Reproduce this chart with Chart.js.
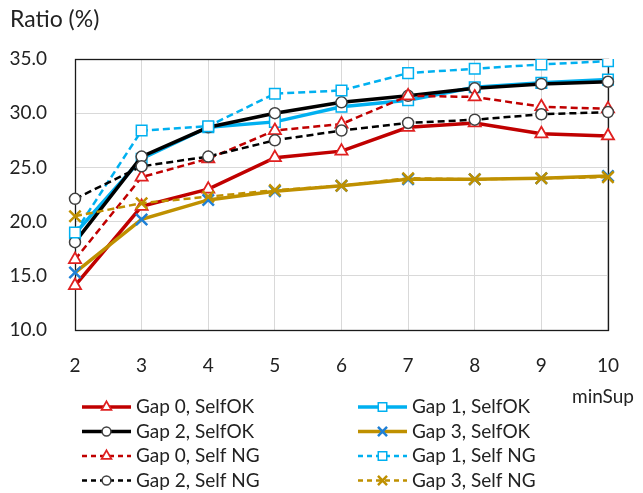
<!DOCTYPE html>
<html>
<head>
<meta charset="utf-8">
<script src="https://cdn.jsdelivr.net/npm/chart.js@4.4.0/dist/chart.umd.min.js"></script>
<style>
html, body { margin: 0; padding: 0; background: #fff; }
</style>
</head>
<body>
<canvas id="myChart" width="643" height="493"></canvas>
<script>
// Data
const minSup = ['2', '3', '4', '5', '6', '7', '8', '9', '10'];
const yTicks = [10, 15, 20, 25, 30, 35];

const gap0SelfOK = [14.1, 21.4, 23.0, 25.9, 26.5, 28.7, 29.1, 28.1, 27.9];
const gap1SelfOK = [18.9, 25.8, 28.7, 29.2, 30.6, 31.2, 32.4, 32.8, 33.1];
const gap2SelfOK = [18.1, 26.0, 28.7, 30.0, 31.0, 31.6, 32.3, 32.7, 32.9];
const gap3SelfOK = [15.3, 20.2, 22.0, 22.8, 23.3, 23.9, 23.9, 24.0, 24.2];
const gap0SelfNG = [16.5, 24.1, 25.8, 28.4, 29.0, 31.6, 31.5, 30.6, 30.4];
const gap1SelfNG = [19.0, 28.4, 28.8, 31.8, 32.1, 33.7, 34.1, 34.5, 34.8];
const gap2SelfNG = [22.1, 25.1, 26.0, 27.5, 28.4, 29.1, 29.4, 29.9, 30.1];
const gap3SelfNG = [20.5, 21.7, 22.3, 22.9, 23.3, 24.0, 23.9, 24.0, 24.1];

const RED = '#c00000';
const BLUE = '#00b0f0';
const GOLD = '#bf9000';
const DASH = [7, 4];

Chart.defaults.font.family = 'Lato';
Chart.defaults.color = '#222';

function series(label, data, color, dashed, marker) {
  return {
    label: label,
    data: data,
    borderColor: color,
    borderWidth: dashed ? 2.5 : 3.5,
    borderDash: dashed ? DASH : [],
    tension: 0,
    fill: false,
    pointStyle: marker.style,
    pointRadius: marker.radius,
    pointBorderColor: marker.border,
    pointBackgroundColor: marker.fill,
    pointBorderWidth: marker.width,
  };
}

const tri = { style: 'triangle', radius: 7, border: '#e02020', fill: '#fff', width: 1.8 };
const sq = { style: 'rect', radius: 7.5, border: BLUE, fill: '#fff', width: 1.5 };
const circ = { style: 'circle', radius: 5.5, border: '#404040', fill: '#fff', width: 1.5 };
const crossBlue = { style: 'crossRot', radius: 8, border: '#1f80d6', fill: '#1f80d6', width: 2.5 };
const crossGold = { style: 'crossRot', radius: 8, border: GOLD, fill: GOLD, width: 2.5 };

const datasets = [
  series('Gap 0, SelfOK', gap0SelfOK, RED, false, tri),
  series('Gap 1, SelfOK', gap1SelfOK, BLUE, false, sq),
  series('Gap 2, SelfOK', gap2SelfOK, '#000', false, circ),
  series('Gap 3, SelfOK', gap3SelfOK, GOLD, false, crossBlue),
  series('Gap 0, Self NG', gap0SelfNG, RED, true, tri),
  series('Gap 1, Self NG', gap1SelfNG, BLUE, true, sq),
  series('Gap 2, Self NG', gap2SelfNG, '#000', true, circ),
  series('Gap 3, Self NG', gap3SelfNG, GOLD, true, crossGold),
];
// later series drawn on top, like the original
datasets.forEach((d, i) => { d.order = datasets.length - i; });

// black frame round the plot area
const plotFrame = {
  id: 'plotFrame',
  beforeDatasetsDraw(chart) {
    const a = chart.chartArea;
    const ctx = chart.ctx;
    ctx.save();
    ctx.strokeStyle = '#1a1a1a';
    ctx.lineWidth = 1.3;
    ctx.strokeRect(Math.round(a.left) + 0.5, Math.round(a.top) + 0.5,
      Math.round(a.right - a.left), Math.round(a.bottom - a.top));
    ctx.restore();
  }
};

// two-column legend with line samples, plus the x axis name
const lineLegend = {
  id: 'lineLegend',
  afterDraw(chart) {
    const ctx = chart.ctx;
    ctx.save();
    ctx.font = '19px Lato';
    ctx.textBaseline = 'middle';
    ctx.fillStyle = '#222';
    chart.data.datasets.forEach((ds, i) => {
      const col = i % 2;
      const row = Math.floor(i / 2);
      const x0 = col ? 358 : 82;
      const x1 = x0 + 49;
      const y = 407 + row * 24.5;
      ctx.save();
      ctx.strokeStyle = ds.borderColor;
      ctx.lineWidth = ds.borderWidth;
      ctx.setLineDash(ds.borderDash.length ? [5, 4] : []);
      ctx.beginPath();
      ctx.moveTo(x0, y);
      ctx.lineTo(x1, y);
      ctx.stroke();
      ctx.setLineDash([]);
      ctx.strokeStyle = ds.pointBorderColor;
      ctx.fillStyle = ds.pointBackgroundColor;
      ctx.lineWidth = ds.pointBorderWidth;
      Chart.helpers.drawPoint(ctx, {
        pointStyle: ds.pointStyle,
        radius: ds.pointRadius * 0.8,
        rotation: 0,
        borderWidth: ds.pointBorderWidth
      }, (x0 + x1) / 2, y);
      ctx.restore();
      ctx.fillText(ds.label, x1 + 5, y);
    });
    ctx.fillText('minSup', 572, 397);
    ctx.restore();
  }
};

const ctx = document.getElementById('myChart').getContext('2d');
const myChart = new Chart(ctx, {
  type: 'line',
  data: {
    labels: minSup,
    datasets: datasets,
  },
  options: {
    responsive: false,
    animation: false,
    events: [],
    layout: {
      padding: { left: 10, right: 32, top: 0, bottom: 0 },
    },
    scales: {
      x: {
        type: 'category',
        offset: false,
        grid: { color: '#d9d9d9', drawTicks: false },
        border: { display: false },
        ticks: { padding: 24, font: { size: 19 }, maxRotation: 0 },
        afterFit: (scale) => { scale.height = 163; },
      },
      y: {
        min: 10,
        max: 35,
        grid: { color: '#d9d9d9', drawTicks: false },
        border: { display: false },
        afterBuildTicks: (scale) => { scale.ticks = yTicks.map(v => ({ value: v })); },
        ticks: {
          padding: 28,
          font: { size: 19 },
          callback: (value) => Number(value).toFixed(1),
        },
        afterFit: (scale) => { scale.width = 65; },
      },
    },
    plugins: {
      legend: { display: false },
      tooltip: { enabled: false },
      title: {
        display: true,
        text: 'Ratio (%)',
        align: 'start',
        color: '#222',
        font: { size: 23, weight: 'normal' },
        padding: { top: 6, bottom: 25.4 },
      },
    },
  },
  plugins: [plotFrame, lineLegend],
});
</script>
</body>
</html>
